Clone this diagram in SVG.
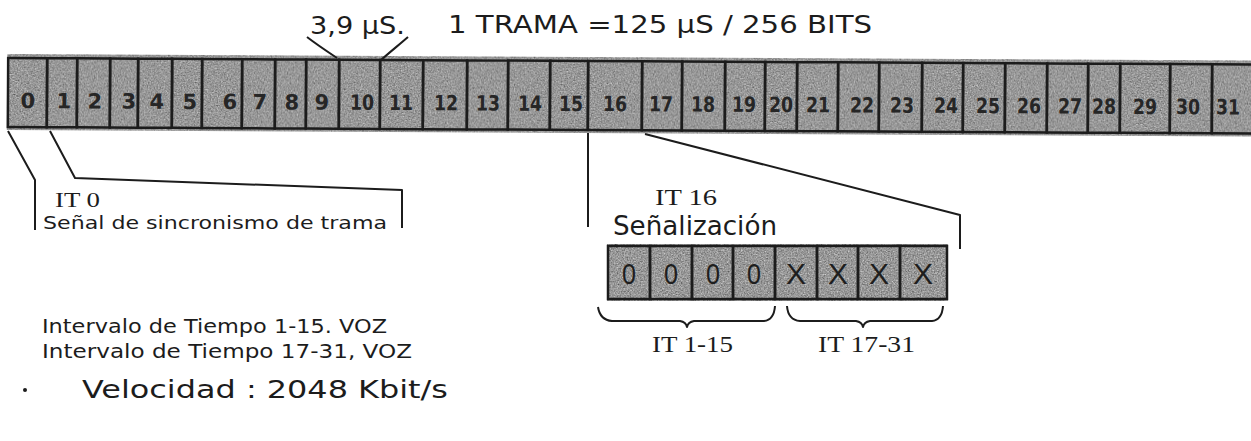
<svg xmlns="http://www.w3.org/2000/svg" width="1251" height="441" viewBox="0 0 1251 441">
  <style>
    .ink { fill: #1c1c1c; }
    .cell { fill: none; stroke: #1c1c1c; stroke-width: 2.5; }
    .num { font-family: "DejaVu Sans", sans-serif; font-weight: bold; font-size: 21px; fill: #262626; text-anchor: middle; }
    .bit { font-family: "Liberation Sans", sans-serif; font-size: 30px; fill: #1e1e1e; text-anchor: middle; }
    .title { font-family: "DejaVu Sans", sans-serif; font-size: 25px; fill: #1c1c1c; }
    .sans { font-family: "DejaVu Sans", sans-serif; fill: #1c1c1c; }
    .serif { font-family: "Liberation Serif", serif; fill: #1c1c1c; }
    .wire { fill: none; stroke: #1c1c1c; stroke-width: 2; stroke-linejoin: round; }
  </style>
  <defs>
    <filter id="grain" x="0" y="0" width="100%" height="100%" color-interpolation-filters="sRGB">
      <feTurbulence type="fractalNoise" baseFrequency="0.7" numOctaves="2" seed="4" result="noise"/>
      <feColorMatrix in="noise" type="matrix" values="0.33 0.33 0.33 0 0  0.33 0.33 0.33 0 0  0.33 0.33 0.33 0 0  0 0 0 0 1"/>
      <feComponentTransfer>
        <feFuncR type="linear" slope="0.9" intercept="0.15"/>
        <feFuncG type="linear" slope="0.9" intercept="0.15"/>
        <feFuncB type="linear" slope="0.9" intercept="0.15"/>
      </feComponentTransfer>
      <feComposite in2="SourceGraphic" operator="in"/>
    </filter>
  </defs>

  <rect width="1251" height="441" fill="#ffffff"/>

  <!-- frame heading -->
  <g id="heading">
    <text class="title" x="310" y="34" textLength="95" lengthAdjust="spacingAndGlyphs">3,9 μS.</text>
    <text class="title" x="448" y="33" textLength="424" lengthAdjust="spacingAndGlyphs">1 TRAMA =125 μS / 256 BITS</text>
  </g>

  <!-- 32 time slots of the frame -->
  <g id="frame" transform="rotate(0.3 8 92)">
    <rect x="7" y="54" width="1250" height="76" fill="#9e9e9e" filter="url(#grain)"/>
    <g id="ts0"><rect class="cell" x="8" y="58" width="39" height="69"/><text class="num" x="28" y="108">0</text></g>
    <g id="ts1"><rect class="cell" x="47" y="58" width="30" height="69"/><text class="num" x="64" y="108">1</text></g>
    <g id="ts2"><rect class="cell" x="77" y="58" width="33" height="69"/><text class="num" x="95" y="108">2</text></g>
    <g id="ts3"><rect class="cell" x="110" y="58" width="28" height="69"/><text class="num" x="129" y="108">3</text></g>
    <g id="ts4"><rect class="cell" x="138" y="58" width="34" height="69"/><text class="num" x="157" y="108">4</text></g>
    <g id="ts5"><rect class="cell" x="172" y="58" width="30" height="69"/><text class="num" x="190" y="108">5</text></g>
    <g id="ts6"><rect class="cell" x="202" y="58" width="40" height="69"/><text class="num" x="230" y="108">6</text></g>
    <g id="ts7"><rect class="cell" x="242" y="58" width="33" height="69"/><text class="num" x="260" y="108">7</text></g>
    <g id="ts8"><rect class="cell" x="275" y="58" width="31" height="69"/><text class="num" x="292" y="108">8</text></g>
    <g id="ts9"><rect class="cell" x="306" y="58" width="33" height="69"/><text class="num" x="322" y="108">9</text></g>
    <g id="ts10"><rect class="cell" x="339" y="58" width="41" height="69"/><text class="num" x="362" y="108" textLength="24" lengthAdjust="spacingAndGlyphs">10</text></g>
    <g id="ts11"><rect class="cell" x="380" y="58" width="43" height="69"/><text class="num" x="401" y="108" textLength="24" lengthAdjust="spacingAndGlyphs">11</text></g>
    <g id="ts12"><rect class="cell" x="423" y="58" width="44" height="69"/><text class="num" x="446" y="108" textLength="24" lengthAdjust="spacingAndGlyphs">12</text></g>
    <g id="ts13"><rect class="cell" x="467" y="58" width="41" height="69"/><text class="num" x="488" y="108" textLength="24" lengthAdjust="spacingAndGlyphs">13</text></g>
    <g id="ts14"><rect class="cell" x="508" y="58" width="42" height="69"/><text class="num" x="530" y="108" textLength="24" lengthAdjust="spacingAndGlyphs">14</text></g>
    <g id="ts15"><rect class="cell" x="550" y="58" width="38" height="69"/><text class="num" x="571" y="108" textLength="24" lengthAdjust="spacingAndGlyphs">15</text></g>
    <g id="ts16"><rect class="cell" x="588" y="58" width="54" height="69"/><text class="num" x="615" y="108" textLength="24" lengthAdjust="spacingAndGlyphs">16</text></g>
    <g id="ts17"><rect class="cell" x="642" y="58" width="40" height="69"/><text class="num" x="661" y="108" textLength="24" lengthAdjust="spacingAndGlyphs">17</text></g>
    <g id="ts18"><rect class="cell" x="682" y="58" width="43" height="69"/><text class="num" x="703" y="108" textLength="24" lengthAdjust="spacingAndGlyphs">18</text></g>
    <g id="ts19"><rect class="cell" x="725" y="58" width="40" height="69"/><text class="num" x="744" y="108" textLength="24" lengthAdjust="spacingAndGlyphs">19</text></g>
    <g id="ts20"><rect class="cell" x="765" y="58" width="32" height="69"/><text class="num" x="781" y="108" textLength="24" lengthAdjust="spacingAndGlyphs">20</text></g>
    <g id="ts21"><rect class="cell" x="797" y="58" width="41" height="69"/><text class="num" x="818" y="108" textLength="24" lengthAdjust="spacingAndGlyphs">21</text></g>
    <g id="ts22"><rect class="cell" x="838" y="58" width="41" height="69"/><text class="num" x="862" y="108" textLength="24" lengthAdjust="spacingAndGlyphs">22</text></g>
    <g id="ts23"><rect class="cell" x="879" y="58" width="43" height="69"/><text class="num" x="902" y="108" textLength="24" lengthAdjust="spacingAndGlyphs">23</text></g>
    <g id="ts24"><rect class="cell" x="922" y="58" width="41" height="69"/><text class="num" x="946" y="108" textLength="24" lengthAdjust="spacingAndGlyphs">24</text></g>
    <g id="ts25"><rect class="cell" x="963" y="58" width="42" height="69"/><text class="num" x="988" y="108" textLength="24" lengthAdjust="spacingAndGlyphs">25</text></g>
    <g id="ts26"><rect class="cell" x="1005" y="58" width="42" height="69"/><text class="num" x="1029" y="108" textLength="24" lengthAdjust="spacingAndGlyphs">26</text></g>
    <g id="ts27"><rect class="cell" x="1047" y="58" width="41" height="69"/><text class="num" x="1070" y="108" textLength="24" lengthAdjust="spacingAndGlyphs">27</text></g>
    <g id="ts28"><rect class="cell" x="1088" y="58" width="32" height="69"/><text class="num" x="1104" y="108" textLength="24" lengthAdjust="spacingAndGlyphs">28</text></g>
    <g id="ts29"><rect class="cell" x="1120" y="58" width="50" height="69"/><text class="num" x="1145" y="108" textLength="24" lengthAdjust="spacingAndGlyphs">29</text></g>
    <g id="ts30"><rect class="cell" x="1170" y="58" width="42" height="69"/><text class="num" x="1188" y="108" textLength="24" lengthAdjust="spacingAndGlyphs">30</text></g>
    <g id="ts31"><rect class="cell" x="1212" y="58" width="45" height="69"/><text class="num" x="1228" y="108" textLength="24" lengthAdjust="spacingAndGlyphs">31</text></g>
  </g>

  <!-- slot 16 signalling byte -->
  <g id="it16-byte">
    <rect x="607" y="244" width="341" height="57" fill="#a0a0a0" filter="url(#grain)"/>
    <rect class="cell" x="608" y="246" width="42" height="53"/>
    <rect class="cell" x="650" y="246" width="42" height="53"/>
    <rect class="cell" x="692" y="246" width="41" height="53"/>
    <rect class="cell" x="733" y="246" width="42" height="53"/>
    <rect class="cell" x="775" y="246" width="42" height="53"/>
    <rect class="cell" x="817" y="246" width="41" height="53"/>
    <rect class="cell" x="858" y="246" width="42" height="53"/>
    <rect class="cell" x="900" y="246" width="47" height="53"/>
    <text class="bit" x="629" y="284" textLength="14" lengthAdjust="spacingAndGlyphs">0</text>
    <text class="bit" x="671" y="284" textLength="14" lengthAdjust="spacingAndGlyphs">0</text>
    <text class="bit" x="713" y="284" textLength="14" lengthAdjust="spacingAndGlyphs">0</text>
    <text class="bit" x="754" y="284" textLength="14" lengthAdjust="spacingAndGlyphs">0</text>
    <text class="bit" x="796" y="284">X</text>
    <text class="bit" x="838" y="284">X</text>
    <text class="bit" x="879" y="284">X</text>
    <text class="bit" x="923" y="284">X</text>
  </g>

  <!-- connectors -->
  <g id="connectors">
    <path class="wire" d="M307,37 C316,44 328,52 337,58"/>
    <path class="wire" d="M408,37 C400,44 390,52 381,60"/>
    <path class="wire" d="M8,131 L35,180 L35,230"/>
    <path class="wire" d="M50,131 L75,178 L402,190 L402,228"/>
    <path class="wire" d="M588,133 L588,227"/>
    <path class="wire" d="M645,134 L960,215 L960,249"/>
    <path class="wire" stroke-width="2.2" d="M598,307 Q600,320 612,321 L680,321 Q686,322 687,327 Q688,322 694,321 L764,321 Q774,320 775,306"/>
    <path class="wire" stroke-width="2.2" d="M787,306 Q788,320 800,321 L856,321 Q862,322 863,327 Q864,322 870,321 L932,321 Q942,320 943,306"/>
  </g>

  <!-- labels -->
  <g id="it0-label">
    <text class="serif" x="55" y="207" font-size="22" textLength="45" lengthAdjust="spacingAndGlyphs">IT 0</text>
    <text class="sans" x="43" y="229" font-size="17" textLength="344" lengthAdjust="spacingAndGlyphs">Señal de sincronismo de trama</text>
  </g>
  <g id="it16-label">
    <text class="serif" x="655" y="205" font-size="23" textLength="62" lengthAdjust="spacingAndGlyphs">IT 16</text>
    <text class="sans" x="613" y="235" font-size="26" textLength="164" lengthAdjust="spacingAndGlyphs">Señalización</text>
  </g>
  <g id="brace-labels">
    <text class="serif" x="652" y="352" font-size="23" textLength="81" lengthAdjust="spacingAndGlyphs">IT 1-15</text>
    <text class="serif" x="818" y="352" font-size="23" textLength="97" lengthAdjust="spacingAndGlyphs">IT 17-31</text>
  </g>
  <g id="notes">
    <text class="sans" x="42" y="333" font-size="20" textLength="345" lengthAdjust="spacingAndGlyphs">Intervalo de Tiempo 1-15. VOZ</text>
    <text class="sans" x="42" y="358" font-size="20" textLength="370" lengthAdjust="spacingAndGlyphs">Intervalo de Tiempo 17-31, VOZ</text>
    <circle class="ink" cx="25" cy="390" r="2"/>
    <text class="sans" x="82" y="398" font-size="25" textLength="366" lengthAdjust="spacingAndGlyphs">Velocidad : 2048 Kbit/s</text>
  </g>
</svg>
